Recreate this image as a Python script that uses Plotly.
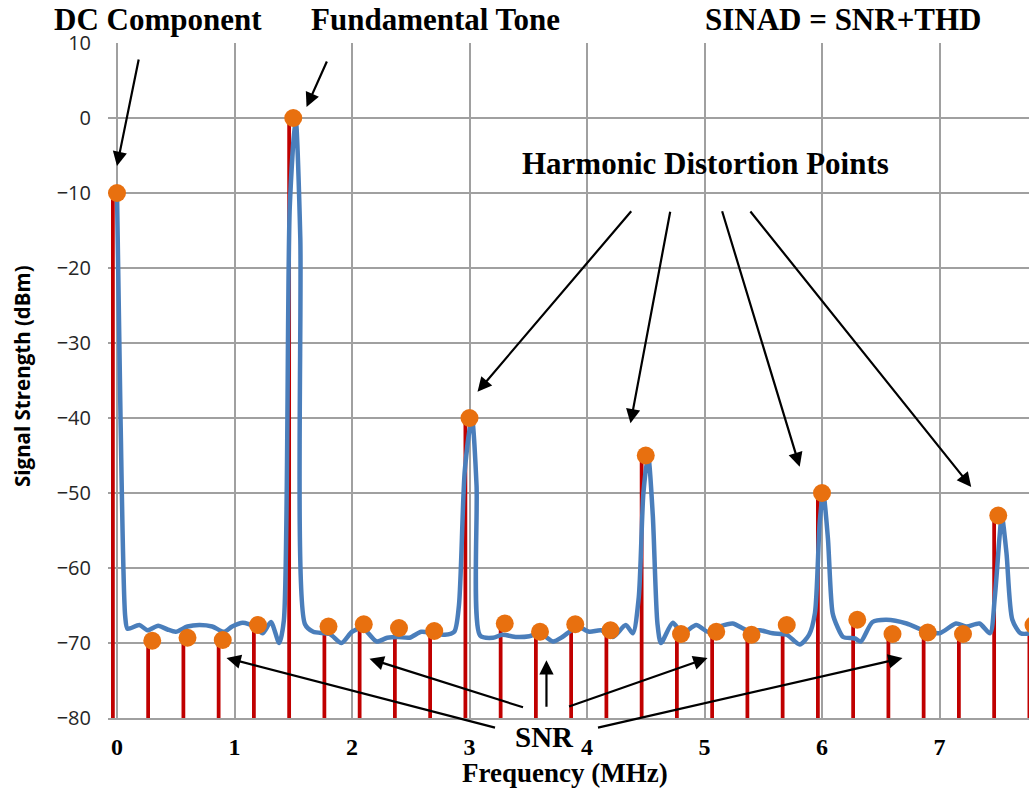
import plotly.graph_objects as go

# Spectrum samples (MHz spacing 0.3) with measured levels in dBm
FREQ_MHZ = [0.0, 0.3, 0.6, 0.9, 1.2, 1.5, 1.8, 2.1, 2.4, 2.7, 3.0, 3.3, 3.6, 3.9,
            4.2, 4.5, 4.8, 5.1, 5.4, 5.7, 6.0, 6.3, 6.6, 6.9, 7.2, 7.5, 7.8]
LEVEL_DBM = [-10.0, -69.7, -69.3, -69.6, -67.6, 0.0, -67.8, -67.5, -68.0, -68.4,
             -40.0, -67.4, -68.5, -67.5, -68.3, -45.0, -68.8, -68.5, -68.9, -67.6,
             -50.0, -66.9, -68.8, -68.6, -68.8, -53.0, -67.6]

# Continuous analyser trace
TRACE_MHZ = [0.00, 0.03, 0.07, 0.09, 0.19, 0.26, 0.35, 0.43, 0.50, 0.60, 0.70, 0.81, 0.91,
             0.98, 1.07, 1.17, 1.24, 1.31, 1.38, 1.42, 1.47, 1.52, 1.56, 1.60, 1.67, 1.81,
             1.91, 2.00, 2.09, 2.21, 2.30, 2.39, 2.49, 2.59, 2.69, 2.79, 2.87, 2.91, 2.96,
             3.02, 3.06, 3.09, 3.20, 3.28, 3.40, 3.51, 3.60, 3.71, 3.79, 3.85, 3.92, 4.02,
             4.12, 4.22, 4.33, 4.39, 4.44, 4.48, 4.52, 4.56, 4.60, 4.63, 4.73, 4.81, 4.93,
             5.03, 5.13, 5.24, 5.36, 5.47, 5.58, 5.70, 5.81, 5.89, 5.94, 5.98, 6.01, 6.05,
             6.09, 6.13, 6.18, 6.28, 6.33, 6.43, 6.55, 6.72, 6.86, 7.00, 7.14, 7.23, 7.34,
             7.43, 7.47, 7.51, 7.53, 7.57, 7.62, 7.69, 7.79, 7.85]
TRACE_DBM = [-10.0, -40.0, -66.5, -68.1, -67.6, -68.3, -67.7, -68.2, -68.5, -67.8, -67.6, -67.8, -68.5,
             -67.8, -67.3, -67.8, -68.7, -67.2, -70.0, -67.0, -12.0, 0.0, -16.0, -67.5, -68.5, -68.8,
             -70.0, -68.5, -68.0, -69.8, -69.3, -69.2, -69.3, -68.5, -68.7, -68.9, -68.5, -65.0, -47.0,
             -40.0, -49.0, -69.0, -69.3, -68.9, -69.2, -69.1, -68.7, -69.8, -69.2, -68.5, -67.8, -68.5,
             -68.3, -69.2, -67.6, -68.7, -64.0, -50.0, -45.0, -53.0, -67.5, -70.0, -67.3, -68.7, -67.6,
             -68.5, -67.8, -67.4, -68.3, -68.3, -68.7, -68.9, -70.2, -68.9, -66.0, -54.0, -50.0, -56.0,
             -66.0, -67.8, -69.2, -69.4, -69.8, -67.2, -66.9, -67.4, -68.3, -68.7, -67.4, -67.8, -67.4,
             -68.7, -64.0, -56.0, -53.0, -58.0, -66.9, -68.7, -68.7, -68.5]

X_TICKS = [0, 1, 2, 3, 4, 5, 6, 7]
Y_TICKS = [-80, -70, -60, -50, -40, -30, -20, -10, 0, 10]
FLOOR_DBM = -80

# Figure geometry: the plot area starts a little left of 0 MHz so the
# horizontal gridlines poke out past the zero line like tick marks
W, H = 1029, 792
L, R, T, B = 108, 0, 43, 74
PX_PER_MHZ = 117.5
X_MIN = -9 / PX_PER_MHZ
X_MAX = X_MIN + (W - L - R) / PX_PER_MHZ
STEM_SHIFT = -0.035
STEM_WIDTH = 0.032

GRID = "#a0a0a0"
SERIF = "Liberation Serif"


def paper(px, py):
    return (px - L) / (W - L - R), (H - B - py) / (H - T - B)


fig = go.Figure()
fig.add_trace(go.Scatter(x=TRACE_MHZ, y=TRACE_DBM, mode="lines",
                         line=dict(color="#4a7ebb", width=4.5, shape="spline", smoothing=0.7),
                         hoverinfo="skip"))
# Stems rising from the floor to each sample level
fig.add_trace(go.Bar(x=[f + STEM_SHIFT for f in FREQ_MHZ],
                     y=[v - FLOOR_DBM for v in LEVEL_DBM],
                     base=FLOOR_DBM, width=STEM_WIDTH,
                     marker=dict(color="#c00000", line=dict(width=0)), hoverinfo="skip"))
fig.add_trace(go.Scatter(x=FREQ_MHZ, y=LEVEL_DBM, mode="markers",
                         marker=dict(color="#e8700f", size=18, line=dict(width=0))))

annotations = []

# Heading texts
for text, px, py, size in [
    ("DC Component", 158, 20, 31),
    ("Fundamental Tone", 435, 20, 31),
    ("SINAD = SNR+THD", 843, 20, 31),
    ("Harmonic Distortion Points", 705, 163, 31),
    ("SNR", 544, 737, 29),
    ("Frequency (MHz)", 565, 773, 27),
]:
    x, y = paper(px, py)
    annotations.append(dict(text=text, x=x, y=y, xref="paper", yref="paper",
                            xanchor="center", yanchor="middle", showarrow=False,
                            font=dict(family=SERIF, size=size, color="black", weight="bold")))

ax_x, ax_y = paper(22, 376)
annotations.append(dict(text="Signal Strength (dBm)", x=ax_x, y=ax_y, xref="paper", yref="paper",
                        xanchor="center", yanchor="middle", showarrow=False, textangle=-90,
                        font=dict(family="Open Sans", size=20.5, color="black", weight="bold")))

# Pointer arrows: head in data units, tail offset in pixels
ARROWS = [
    (0.0, -6.4, 22, -108),
    (1.613, 1.47, 21, -47),
    (3.068, -36.5, 155, -182),
    (4.37, -40.7, 40, -213),
    (5.81, -46.5, -78, -257),
    (7.27, -49.2, -222, -277),
    (0.932, -72.0, 270, 70),
    (2.149, -72.1, 155, 49),
    (3.655, -72.3, 0, 48),
    (5.026, -72.0, -140, 49),
    (6.685, -72.0, -306, 70),
]
for hx, hy, dx, dy in ARROWS:
    annotations.append(dict(text="", x=hx, y=hy, xref="x", yref="y", ax=dx, ay=dy,
                            showarrow=True, arrowhead=2, arrowsize=1.3, arrowwidth=2.2,
                            arrowcolor="black", standoff=0, startstandoff=0))

fig.update_layout(
    width=W, height=H,
    margin=dict(l=L, r=R, t=T, b=B, pad=0),
    paper_bgcolor="white", plot_bgcolor="white",
    showlegend=False,
    annotations=annotations,
    xaxis=dict(range=[X_MIN, X_MAX], tickvals=X_TICKS, showgrid=True, gridcolor=GRID, gridwidth=2,
               showline=True, linecolor=GRID, linewidth=2, zeroline=False, ticks="",
               ticklabelstandoff=6,
               tickfont=dict(family=SERIF, size=24, color="black", weight="bold")),
    yaxis=dict(range=[FLOOR_DBM, 10], tickvals=Y_TICKS, showgrid=True, gridcolor=GRID, gridwidth=2,
               showline=False, zeroline=False, ticks="",
               ticklabelstandoff=16,
               tickfont=dict(family="Open Sans", size=20, color="#262626")),
)

fig.write_html("out.html")
